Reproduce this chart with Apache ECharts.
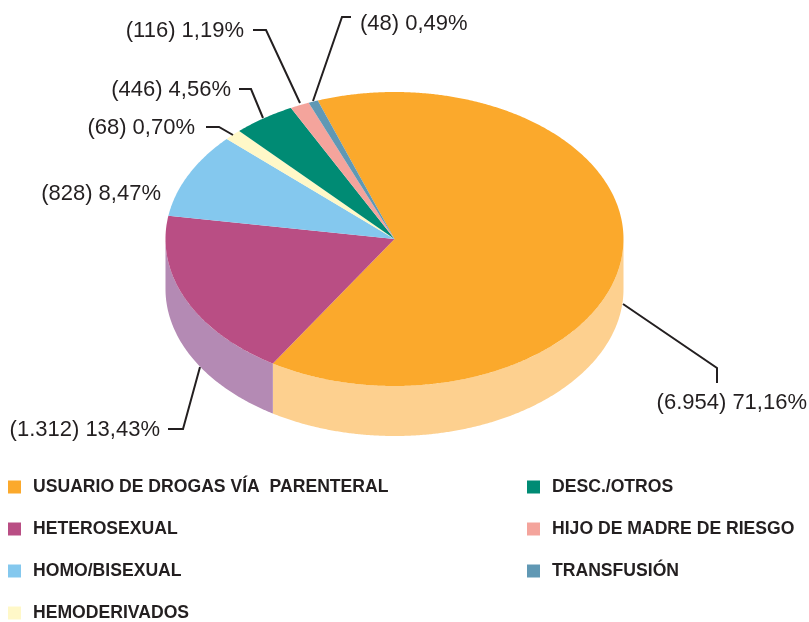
<!DOCTYPE html>
<html><head><meta charset="utf-8">
<style>html,body{margin:0;padding:0;background:#fff}#c{width:809px;height:622px}</style>
<script src="https://cdn.jsdelivr.net/npm/echarts@6/dist/echarts.min.js"></script>
</head><body><div id="c"></div>
<script>
// ---- data ----
const categories = ['USUARIO DE DROGAS VÍA  PARENTERAL','HETEROSEXUAL','HOMO/BISEXUAL','HEMODERIVADOS','DESC./OTROS','HIJO DE MADRE DE RIESGO','TRANSFUSIÓN'];
const counts = [6954,1312,828,68,446,116,48];
const labels = ['(6.954) 71,16%','(1.312) 13,43%','(828) 8,47%','(68) 0,70%','(446) 4,56%','(116) 1,19%','(48) 0,49%'];
// Share of the pie each slice visibly occupies (%).
// The reference's drawn wedges differ slightly from its printed percentages.
const drawnShares = [70.36,14.31,6.94,1.11,4.69,1.69,0.89];

// ---- styling and layout ----
const topColors = ['#FBA92C','#B94E84','#84C8EE','#FFF8C8','#008B74','#F4A49C','#6098B4'];
const wallColors = ['#FDD08F','#B48AB4','#84C8EE','#FFF8C8','#008B74','#F4A49C','#6098B4'];
const CX=394.5, CY=239, RX=229, RY=147, DEPTH=50, START=-29;
const labelPos = [[807,403,'right'],[160,430,'right'],[161,194,'right'],[195,128,'right'],[231,90,'right'],[244,31,'right'],[360,24,'left']];
const leaders = [
  [[623,304],[717,368],[717,383]],
  [[168,429],[183,429],[200,367]],
  null,
  [[206,127],[219,127],[233,135]],
  [[239,89],[251,89],[263,118]],
  [[253,30],[266,30],[300,103]],
  [[351,17],[342,17],[313,101]]
];
const total = drawnShares.reduce((a,b)=>a+b,0);
function rim(deg,dy){
  const t=deg*Math.PI/180, s=Math.sin(t), c=Math.cos(t);
  const r=1/Math.sqrt((s/RX)*(s/RX)+(c/RY)*(c/RY));
  return [CX+r*s, CY-r*c+(dy||0)];
}
function arc(a,b,dy){
  const pts=[], n=Math.max(2,Math.ceil((b-a)/0.5));
  for(let i=0;i<=n;i++) pts.push(rim(a+(b-a)*i/n,dy));
  return pts;
}
function renderSlice(index){
  return function(params,api){
    const before=drawnShares.slice(0,index).reduce((a,b)=>a+b,0);
    const a=START+before/total*360, b=a+api.value(0)/total*360;
    const children=[];
    const wa=Math.max(a,90), wb=Math.min(b,270);
    if(wb>wa){
      children.push({type:'polygon',shape:{points:arc(wa,wb,0).concat(arc(wa,wb,DEPTH).reverse())},style:{fill:wallColors[index]}});
    }
    children.push({type:'polygon',shape:{points:[[CX,CY]].concat(arc(a,b,0))},style:{fill:topColors[index]}});
    if(leaders[index]) children.push({type:'polyline',shape:{points:leaders[index]},style:{fill:null,stroke:'#231F20',lineWidth:2}});
    const p=labelPos[index];
    children.push({type:'text',x:p[0],y:p[1],style:{text:labels[index],fill:'#231F20',font:'22px "Liberation Sans", Arial, sans-serif',textAlign:p[2],textVerticalAlign:'middle'}});
    return {type:'group',children};
  };
}
const legendBase={orient:'vertical',padding:0,itemWidth:13,itemHeight:13,itemGap:24,icon:'rect',selectedMode:false,
  textStyle:{color:'#231F20',fontFamily:'"Liberation Sans", Arial, sans-serif',fontWeight:'bold',fontSize:17.6,lineHeight:12,padding:[4,0,0,7]}};
const chart=echarts.init(document.getElementById('c'),null,{renderer:'canvas'});
chart.setOption({
  animation:false,
  backgroundColor:'#fff',
  legend:[
    Object.assign({},legendBase,{left:8,top:478,data:categories.slice(0,4)}),
    Object.assign({},legendBase,{left:527,top:478,data:categories.slice(4)})
  ],
  series:categories.map((name,i)=>({
    type:'custom',name,coordinateSystem:'none',
    itemStyle:{color:topColors[i]},
    renderItem:renderSlice(i),
    data:[[drawnShares[i],counts[i]]],
    silent:true
  }))
});
</script></body></html>
